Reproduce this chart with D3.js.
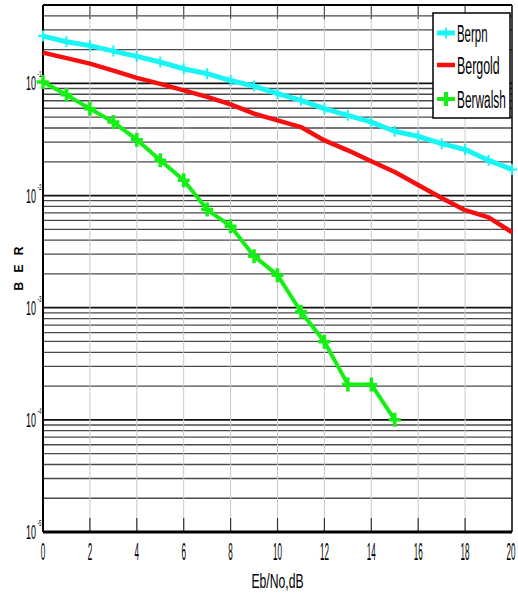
<!DOCTYPE html>
<html>
<head>
<meta charset="utf-8">
<script src="https://cdn.jsdelivr.net/npm/d3@7"></script>
<style>
  body { margin: 0; background: #fff; }
  text { font-family: 'Liberation Sans', Arial, sans-serif; fill: #000; }
</style>
</head>
<body>
<svg id="chart"></svg>
<script>
const width = 518
const height = 596
const margin = { top: 5, right: 6, bottom: 64, left: 43 }

// Eb/No in dB
const ebno = d3.range(0, 21)
const berpn = [0.264, 0.235, 0.217, 0.194, 0.174, 0.155, 0.135, 0.122, 0.106, 0.0946,
    0.081, 0.0706, 0.0595, 0.0519, 0.0452, 0.0374, 0.0337, 0.029, 0.0257, 0.0206, 0.0171]
const bergold = [0.188, 0.168, 0.150, 0.130, 0.112, 0.099, 0.0867, 0.0758, 0.065, 0.0537,
    0.0468, 0.0408, 0.031, 0.0253, 0.0202, 0.0162, 0.0124, 0.0095, 0.0074, 0.0064, 0.0047]
const berwalsh = [0.103, 0.079, 0.0595, 0.0452, 0.0315, 0.0206, 0.0137, 0.0075, 0.00533, 0.00288,
    0.00195, 0.00092, 0.000497, 0.000207, 0.000207, 0.0001]
const xTicks = [0, 2, 4, 6, 8, 10, 12, 14, 16, 18, 20]
const yDecades = [-5, -4, -3, -2, -1]

const series = [
    { name: 'Berpn', values: berpn, color: '#19f5f5', width: 5, marker: 'thin' },
    { name: 'Bergold', values: bergold, color: '#f50f0f', width: 4.5, marker: null },
    { name: 'Berwalsh', values: berwalsh, color: '#14f014', width: 4, marker: 'thick' }
]

const svg = d3.select('#chart')
    .attr('width', width)
    .attr('height', height)

const x = d3.scaleLinear()
    .domain([0, 20])
    .range([margin.left, width - margin.right])

const y = d3.scaleLog()
    .domain([1e-5, 0.5])
    .range([height - margin.bottom, margin.top])

// horizontal grid: every minor value of each decade
const minorVals = []
yDecades.forEach(p => {
    for (let k = 1; k <= 9; k++) {
        const v = k * Math.pow(10, p)
        if (v <= 0.5) minorVals.push({ v, major: k === 1 })
    }
})

svg.append('g')
    .selectAll('line')
    .data(minorVals)
    .join('line')
    .attr('x1', x(0))
    .attr('x2', x(20))
    .attr('y1', d => y(d.v))
    .attr('y2', d => y(d.v))
    .attr('stroke', d => d.major ? '#111' : '#4a4a4a')
    .attr('stroke-width', d => d.major ? 1.8 : 1.3)

// vertical grid
svg.append('g')
    .selectAll('line')
    .data(xTicks.slice(1, -1))
    .join('line')
    .attr('x1', d => x(d))
    .attr('x2', d => x(d))
    .attr('y1', y(0.5))
    .attr('y2', y(1e-5))
    .attr('stroke', '#c8c8c8')
    .attr('stroke-width', 1)

// tick marks on top and bottom
const tickLen = 14
svg.append('g')
    .selectAll('line')
    .data(xTicks.slice(1, -1))
    .join('line')
    .attr('x1', d => x(d))
    .attr('x2', d => x(d))
    .attr('y1', y(1e-5))
    .attr('y2', y(1e-5) - tickLen)
    .attr('stroke', '#333')
    .attr('stroke-width', 1.2)
svg.append('g')
    .selectAll('line')
    .data(xTicks.slice(1, -1))
    .join('line')
    .attr('x1', d => x(d))
    .attr('x2', d => x(d))
    .attr('y1', y(0.5))
    .attr('y2', y(0.5) + tickLen)
    .attr('stroke', '#555')
    .attr('stroke-width', 1.2)

// frame
const frame = svg.append('g').attr('stroke', '#000').attr('fill', 'none')
frame.append('line').attr('x1', x(0)).attr('x2', x(20)).attr('y1', y(0.5)).attr('y2', y(0.5)).attr('stroke-width', 2)
frame.append('line').attr('x1', x(0)).attr('x2', x(20)).attr('y1', y(1e-5)).attr('y2', y(1e-5)).attr('stroke-width', 3)
frame.append('line').attr('x1', x(0)).attr('x2', x(0)).attr('y1', y(0.5)).attr('y2', y(1e-5)).attr('stroke-width', 2)
frame.append('line').attr('x1', x(20)).attr('x2', x(20)).attr('y1', y(0.5)).attr('y2', y(1e-5)).attr('stroke-width', 1.5)

// series lines
const line = d3.line()
    .x((d, i) => x(ebno[i]))
    .y(d => y(d))

const plotG = svg.append('g')
series.forEach(s => {
    plotG.append('path')
        .datum(s.values)
        .attr('d', line)
        .attr('fill', 'none')
        .attr('stroke', s.color)
        .attr('stroke-width', s.width)
        .attr('stroke-linejoin', 'round')

    if (s.marker) {
        const h = s.marker === 'thick' ? 7 : 5.5
        const w = s.marker === 'thick' ? 6 : 5
        plotG.append('g')
            .selectAll('path')
            .data(s.values)
            .join('path')
            .attr('d', (d, i) => {
                const cx = x(ebno[i]), cy = y(d)
                return `M${cx},${cy - h}L${cx},${cy + h}M${cx - w},${cy}L${cx + w},${cy}`
            })
            .attr('stroke', s.color)
            .attr('stroke-width', s.marker === 'thick' ? 3.5 : 2)
            .attr('fill', 'none')
    }
})

// x tick labels
svg.append('g')
    .selectAll('text')
    .data(xTicks)
    .join('text')
    .attr('x', d => d === 20 ? x(d) - 1 : x(d))
    .attr('y', 560)
    .attr('text-anchor', 'middle')
    .attr('font-size', 23)
    .attr('textLength', d => String(d).length * 4.5)
    .attr('lengthAdjust', 'spacingAndGlyphs')
    .text(d => d)

// y tick labels 10^p
const yLab = svg.append('g')
    .selectAll('g')
    .data(yDecades)
    .join('g')
    .attr('transform', d => `translate(0, ${y(Math.pow(10, d))})`)
yLab.append('text')
    .attr('x', 26)
    .attr('y', 7)
    .attr('font-size', 20)
    .attr('textLength', 10)
    .attr('lengthAdjust', 'spacingAndGlyphs')
    .text('10')
yLab.append('text')
    .attr('x', 37.5)
    .attr('y', -6)
    .attr('font-size', 9)
    .attr('textLength', 4)
    .attr('lengthAdjust', 'spacingAndGlyphs')
    .text(d => d)

// axis titles
svg.append('text')
    .attr('x', (x(0) + x(20)) / 2)
    .attr('y', 588)
    .attr('text-anchor', 'middle')
    .attr('font-size', 21)
    .attr('textLength', 52)
    .attr('lengthAdjust', 'spacingAndGlyphs')
    .text('Eb/No,dB')

svg.append('text')
    .attr('transform', `translate(23, ${(y(0.5) + y(1e-5)) / 2}) rotate(-90)`)
    .attr('text-anchor', 'middle')
    .attr('font-size', 12)
    .attr('font-weight', 'bold')
    .attr('textLength', 44)
    .attr('lengthAdjust', 'spacing')
    .text('BER')

// legend
const legend = svg.append('g').attr('transform', 'translate(433, 13)')
legend.append('rect')
    .attr('width', 77)
    .attr('height', 105)
    .attr('fill', '#fff')
    .attr('stroke', '#000')
    .attr('stroke-width', 1.5)

const legendRows = [20, 52, 86]
series.forEach((s, i) => {
    const g = legend.append('g').attr('transform', `translate(0, ${legendRows[i]})`)
    g.append('line')
        .attr('x1', 4).attr('x2', 22)
        .attr('y1', 0).attr('y2', 0)
        .attr('stroke', s.color)
        .attr('stroke-width', s.width)
    if (s.marker) {
        const h = s.marker === 'thick' ? 7 : 5.5
        g.append('path')
            .attr('d', `M13,${-h}L13,${h}`)
            .attr('stroke', s.color)
            .attr('stroke-width', s.marker === 'thick' ? 4 : 2)
    }
    g.append('text')
        .attr('x', 24)
        .attr('y', 9)
        .attr('font-size', 23)
        .attr('textLength', s.name.length * 6.1)
        .attr('lengthAdjust', 'spacingAndGlyphs')
        .text(s.name)
})
</script>
</body>
</html>
